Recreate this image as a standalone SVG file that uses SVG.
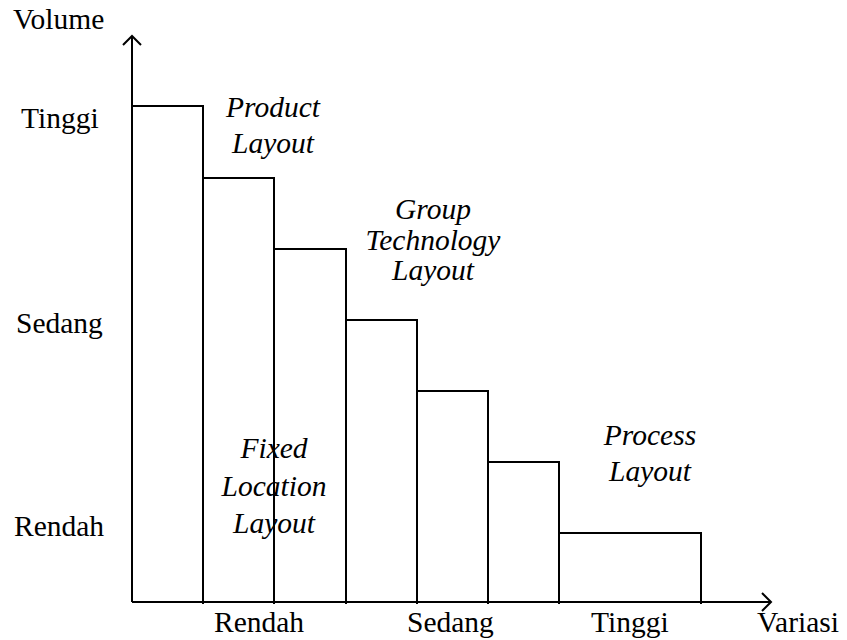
<svg xmlns="http://www.w3.org/2000/svg" width="847" height="640" viewBox="0 0 847 640">
<style>
.ln{fill:none;stroke:#000;stroke-width:2}
.t{font-family:"Liberation Serif","Times New Roman",serif;font-size:29.5px;fill:#000}
.i{font-style:italic;text-anchor:middle}
</style>
<rect width="847" height="640" fill="#fff"/>
<g id="axes">
<path class="ln" d="M132,602 V36 M123,45 L132,36 L141,45"/>
<path class="ln" d="M132,602 H771 M762,593 L771,602 L762,611"/>
</g>
<g id="bars">
<g id="bar1"><path class="ln" d="M132,106 H203 V604"/></g>
<g id="bar2"><path class="ln" d="M203,178 H274 V604"/></g>
<g id="bar3"><path class="ln" d="M274,249 H346 V604"/></g>
<g id="bar4"><path class="ln" d="M346,320 H417 V604"/></g>
<g id="bar5"><path class="ln" d="M417,391 H488 V604"/></g>
<g id="bar6"><path class="ln" d="M488,462 H559 V604"/></g>
<g id="bar7"><path class="ln" d="M559,533 H701 V604"/></g>
</g>
<g id="y-labels" class="t">
<text x="13" y="29">Volume</text>
<text x="21" y="128">Tinggi</text>
<text x="16" y="333">Sedang</text>
<text x="14" y="536">Rendah</text>
</g>
<g id="x-labels" class="t">
<text x="214" y="632">Rendah</text>
<text x="407" y="632">Sedang</text>
<text x="591" y="632">Tinggi</text>
<text x="757" y="632">Variasi</text>
</g>
<g id="product-layout" class="t i">
<text x="273" y="117">Product</text>
<text x="273" y="153">Layout</text>
</g>
<g id="group-technology-layout" class="t i">
<text x="433" y="219">Group</text>
<text x="433" y="250">Technology</text>
<text x="433" y="280">Layout</text>
</g>
<g id="fixed-location-layout" class="t i">
<text x="274" y="458">Fixed</text>
<text x="274" y="496">Location</text>
<text x="274" y="533">Layout</text>
</g>
<g id="process-layout" class="t i">
<text x="650" y="445">Process</text>
<text x="650" y="481">Layout</text>
</g>
</svg>
